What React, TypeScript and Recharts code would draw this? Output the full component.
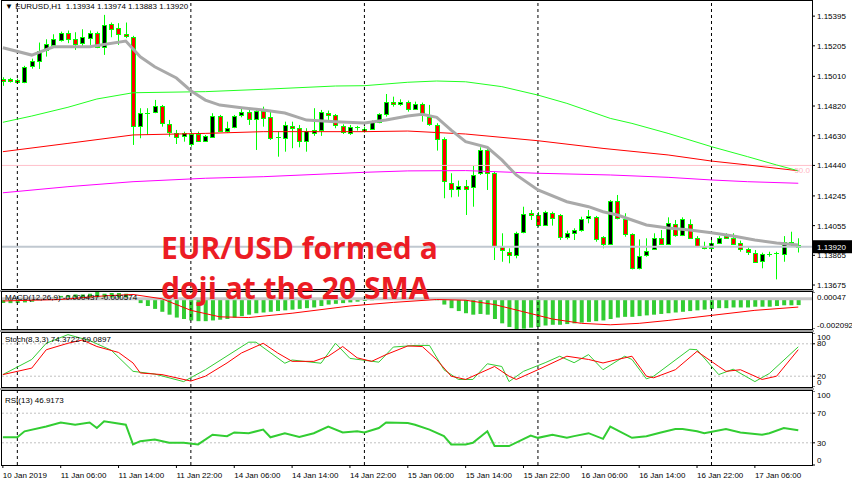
import React from 'react'
import { ComposedChart, Bar, Line, XAxis, YAxis, ReferenceLine } from 'recharts'

const FONT = '"Liberation Sans", Arial, sans-serif'
const X_DOMAIN: [number, number] = [-0.12, 111.9]
const PRICE_DOMAIN: [number, number] = [1.13656, 1.15479]

// EURUSD H1, 10 Jan 22:00 .. 17 Jan 12:00
const OPEN = [1.14993,1.14991,1.14987,1.14974,1.15077,1.15111,1.15175,1.15211,1.15243,1.1529,
  1.15251,1.15222,1.1526,1.1529,1.15196,1.15343,1.15318,1.15279,1.1526,1.14693,
  1.14774,1.14782,1.14821,1.14703,1.1465,1.14624,1.14577,1.14639,1.14597,1.14624,
  1.14757,1.14663,1.14688,1.14759,1.1478,1.14737,1.14791,1.14748,1.14622,1.14614,
  1.14693,1.14678,1.14599,1.14652,1.14671,1.14778,1.14763,1.14693,1.14652,1.1468,
  1.14671,1.14673,1.14716,1.14767,1.14844,1.14833,1.14844,1.14801,1.14833,1.14752,
  1.14699,1.14607,1.1433,1.14294,1.14311,1.143,1.1439,1.14539,1.1439,1.1392,
  1.13888,1.13871,1.14016,1.14134,1.14123,1.14059,1.14138,1.14123,1.13984,1.14006,
  1.14023,1.14106,1.14112,1.1398,1.13937,1.14215,1.14097,1.13999,1.13782,1.13867,
  1.13903,1.13978,1.13937,1.14065,1.13995,1.14065,1.13978,1.13927,1.13916,1.13948,
  1.13991,1.13978,1.13942,1.13903,1.13882,1.13829,1.13871,1.13875,1.13878,1.13952,
  1.13934]
const HIGH = [1.15004,1.15,1.14995,1.15077,1.15123,1.15226,1.15247,1.15279,1.15296,1.15303,
  1.15292,1.15311,1.15303,1.15296,1.15403,1.15354,1.1535,1.15354,1.15269,1.14806,
  1.14806,1.14859,1.14827,1.14731,1.14667,1.14656,1.14656,1.14656,1.14635,1.14774,
  1.14763,1.1472,1.14763,1.1481,1.14795,1.14795,1.14816,1.14795,1.14656,1.1472,
  1.1472,1.14699,1.14678,1.14806,1.14795,1.14791,1.14769,1.14703,1.14699,1.14693,
  1.14688,1.14727,1.14774,1.14897,1.1488,1.14863,1.14855,1.14848,1.14842,1.14827,
  1.1471,1.1462,1.1439,1.14343,1.14347,1.14437,1.14556,1.14556,1.144,1.14006,
  1.1391,1.14016,1.14176,1.14155,1.14142,1.1415,1.14144,1.14129,1.14023,1.14038,
  1.14112,1.14155,1.14117,1.13988,1.14219,1.14251,1.14134,1.14006,1.13967,1.13974,
  1.14006,1.14027,1.14108,1.14091,1.14108,1.14095,1.13988,1.13952,1.13963,1.13988,
  1.14006,1.14006,1.13959,1.13916,1.13899,1.13882,1.13888,1.13888,1.13988,1.14016,
  1.13974]
const LOW = [1.14949,1.1497,1.14961,1.14966,1.15059,1.15057,1.15136,1.15196,1.15232,1.15222,
  1.15179,1.15196,1.15211,1.1519,1.15147,1.1526,1.15211,1.15254,1.14571,1.14614,
  1.14635,1.14774,1.14688,1.14624,1.14577,1.14592,1.1456,1.14592,1.14592,1.1462,
  1.14656,1.1465,1.14678,1.14748,1.14699,1.14539,1.14688,1.14603,1.14496,1.14528,
  1.1455,1.14556,1.14528,1.14629,1.14629,1.14731,1.14678,1.14641,1.14635,1.14663,
  1.1465,1.14667,1.1471,1.14752,1.14816,1.14821,1.14784,1.14795,1.1472,1.14693,
  1.14535,1.1423,1.14236,1.1424,1.14123,1.14176,1.14379,1.14283,1.13835,1.13824,
  1.13814,1.13846,1.14006,1.14091,1.14048,1.14055,1.14055,1.13963,1.13967,1.13963,
  1.14016,1.1407,1.13952,1.1391,1.13931,1.14095,1.13984,1.13775,1.13775,1.13856,
  1.13899,1.13931,1.13931,1.13984,1.13988,1.13974,1.1392,1.13903,1.13888,1.13942,
  1.13974,1.13931,1.13888,1.13867,1.13818,1.13782,1.13856,1.13711,1.13824,1.1392,
  1.13883]
const CLOSE = [1.14981,1.14981,1.14976,1.15068,1.15109,1.15173,1.15215,1.15247,1.15286,1.15249,
  1.15222,1.1526,1.1529,1.152,1.15339,1.15313,1.15279,1.15264,1.14693,1.14774,
  1.14778,1.14821,1.1471,1.14652,1.14624,1.14646,1.14639,1.14597,1.14629,1.14757,
  1.14663,1.14682,1.14757,1.1478,1.14737,1.14791,1.14748,1.14614,1.14625,1.14699,
  1.14678,1.14592,1.14661,1.14669,1.14784,1.14767,1.14699,1.14652,1.14688,1.14684,
  1.14659,1.1472,1.14767,1.14844,1.14833,1.14848,1.14799,1.14831,1.14763,1.14705,
  1.14607,1.14336,1.14289,1.14311,1.14294,1.14379,1.14539,1.1439,1.13925,1.13899,
  1.13871,1.1401,1.14129,1.14123,1.14059,1.14144,1.14106,1.13984,1.1401,1.14027,
  1.14095,1.14117,1.13974,1.13935,1.14215,1.14108,1.14001,1.13782,1.13861,1.13895,
  1.13974,1.13942,1.14074,1.13995,1.14095,1.13978,1.13925,1.13914,1.13946,1.13978,
  1.1398,1.13937,1.13903,1.13882,1.13824,1.13871,1.13875,1.13878,1.13952,1.13937,
  1.1392]

// moving averages, [bar index, price] read at the bends
const SMA_GRAY = [[0,1.15193],[4,1.15146],[7,1.15199],[12,1.15199],[17,1.15236],[19,1.15135],[21,1.15071],
  [24,1.14999],[26,1.14918],[28,1.14858],[30,1.14826],[33,1.14809],[36,1.14794],[39,1.14775],[42,1.1473],
  [46,1.1472],[50,1.14711],[53,1.1473],[56,1.14756],[58,1.14767],[60,1.14748],[62,1.14666],[64,1.14592],
  [67,1.14556],[69,1.14475],[71,1.14379],[74,1.14283],[78,1.14208],[81,1.14176],[83,1.14144],[85,1.14123],
  [87,1.14091],[89,1.14059],[92,1.1404],[95,1.14027],[98,1.1401],[101,1.13988],[104,1.13963],[107,1.13944],[110,1.13931]]
const MA_GREEN = [[0,1.14716],[4,1.14756],[9,1.14812],[13,1.14865],[18,1.14905],[28,1.14912],[36,1.14927],
  [46,1.14948],[50,1.1495],[56,1.14972],[60,1.1498],[64,1.14975],[69,1.14944],[74,1.1489],[78,1.14837],
  [84,1.14741],[87,1.14709],[92,1.14645],[98,1.1456],[103,1.14496],[107,1.14443],[110,1.14406]]
const MA_RED = [[0,1.14528],[9,1.14581],[18,1.14635],[28,1.14645],[36,1.14656],[50,1.14656],[56,1.1466],
  [64,1.14641],[74,1.14598],[83,1.14549],[92,1.14507],[98,1.14468],[103,1.14443],[110,1.14406]]
const MA_MAGENTA = [[0,1.14265],[9,1.14304],[18,1.14336],[28,1.14358],[36,1.14368],[50,1.14396],[56,1.14405],
  [64,1.14407],[74,1.1439],[84,1.14379],[92,1.14364],[98,1.14347],[103,1.14336],[110,1.14326]]

const PRICE_TICKS = [1.15395, 1.15205, 1.1501, 1.1482, 1.1463, 1.1444, 1.14245, 1.14055, 1.13865, 1.13675]
const FIB_50 = 1.1444
const LAST_PRICE = 1.1392

const MACD_HIST = [-0.0003,-0.0003,-0.0003,-0.00025,-0.0002,
  -0.0001,0,0.0001,0.0002,0.00025,0.0003,0.0003,0.00035,0.00047,0.00035,0.0004,0.0004,0.00035,
  0,-0.0003,-0.0005,-0.0007,-0.0009,-0.0011,-0.0013,-0.0014,-0.0015,-0.00155,-0.00155,-0.0015,-0.00145,
  -0.0014,-0.0013,-0.0012,-0.0011,-0.001,-0.00095,-0.0009,-0.00085,-0.0008,-0.00075,-0.0007,-0.00065,-0.0006,-0.0005,-0.0004,
  -0.00035,-0.0003,-0.00025,-0.0002,-0.00015,-0.0001,-0.00005,0,0.00005,0.00005,0.00005,0.00005,0.00005,0,
  -0.0001,-0.0004,-0.00065,-0.00085,-0.001,-0.0011,-0.00105,-0.0011,-0.0014,-0.0017,-0.00195,-0.002092,-0.00207,-0.002,-0.00195,
  -0.00185,-0.0018,-0.0018,-0.00175,-0.0017,-0.00165,-0.0016,-0.00155,-0.0015,-0.0014,-0.0013,-0.00125,-0.00125,-0.0012,-0.00115,-0.0011,
  -0.00105,-0.001,-0.00095,-0.0009,-0.00085,-0.0008,-0.00075,-0.0007,-0.00065,-0.00065,-0.0006,-0.0006,-0.0006,-0.00055,-0.00055,-0.00055,-0.0005,-0.00045,-0.00045,-0.000437]
const MACD_SIGNAL = [[0,-0.00015],[8,-0.00005],[14,0.0002],[18,0.0003],[22,0],[26,-0.0008],[30,-0.00125],
  [34,-0.0013],[40,-0.001],[48,-0.0005],[54,-0.00025],[60,-0.00005],[64,-0.0001],[68,-0.0004],[72,-0.0009],
  [76,-0.0014],[80,-0.0017],[84,-0.0018],[88,-0.0017],[92,-0.0015],[98,-0.00115],[104,-0.0008],[110,-0.000574]]
const MACD_TICKS = [0.00047, -0.002092]

const STOCH_MAIN = [[0,23],[4,51],[6,81],[9,97],[12,86],[15,68],[18,29],[21,24],[25,10],[28,32],[34,83],[35,83],
  [39,44],[40,50],[44,44],[46,81],[48,53],[52,46],[54,74],[57,77],[59,77],[61,32],[63,14],[65,14],[67,43],
  [69,38],[70,10],[72,29],[75,45],[77,57],[79,45],[81,60],[83,32],[86,57],[87,51],[89,15],[90,20],[95,70],
  [96,69],[99,23],[101,33],[104,10],[106,25],[110,74.37]]
const STOCH_SIGNAL = [[0,23],[4,35],[6,69],[9,81],[11,87],[13,75],[16,64],[18,44.5],[19,26],[22,23],[26,11],
  [28,20],[31,44.5],[33,63],[36,81],[38,63],[40,47.5],[43,47.5],[45,57],[47,75],[49,54],[51,47.5],[53,60],
  [56,76],[58,75],[60,50.6],[62,20],[64,14],[66,26],[68,38],[70,20],[71,14],[74,32],[78,57],[81,51],[83,44.5],
  [85,51],[87,57],[89,20],[90,17],[93,32],[96,66],[99,38],[100,29],[102,32],[105,14],[107,20],[110,69.09]]
const STOCH_TICKS = [100, 80, 20, 0]

const RSI = [[0,37.5],[2,37.5],[3,45.5],[6,52],[8,57.5],[10,54.4],[12,57.5],[13,50],[14,59],[17,54.4],[18,27.8],
  [19,32.2],[21,34.4],[23,30],[25,30],[27,27.8],[29,41],[31,39],[32,44],[34,43],[36,47.8],[37,37.5],[39,43],
  [41,38],[43,43],[45,52],[47,44],[49,45.5],[50,44],[52,50],[53,57.5],[56,56.6],[57,54.4],[59,47.8],[61,39],
  [62,27.8],[64,27.8],[65,30],[67,45.5],[68,25.6],[70,25.6],[73,39.8],[74,36.7],[76,41],[78,36.7],[79,39],
  [81,43],[83,35.3],[84,52],[87,36.7],[89,39],[91,44],[93,48.6],[94,48.6],[96,45.5],[97,43],[100,48.6],
  [102,44],[105,41],[106,43],[108,50],[110,46.92]]
const RSI_TICKS = [100, 70, 30, 0]

const DAY_STARTS = [2, 26, 50, 74, 98]
const TIME_TICKS = [0, 8, 16, 24, 32, 40, 48, 56, 64, 72, 80, 88, 96, 104]
const TIME_LABELS = ['10 Jan 2019', '11 Jan 06:00', '11 Jan 14:00', '11 Jan 22:00', '14 Jan 06:00', '14 Jan 14:00',
  '14 Jan 22:00', '15 Jan 06:00', '15 Jan 14:00', '15 Jan 22:00', '16 Jan 06:00', '16 Jan 14:00', '16 Jan 22:00', '17 Jan 06:00']

const BULL = '#000000'
const BEAR = '#ff0000'
const WICK = '#00ff00'

const lookup = (knots: number[][]) => {
  const m = new Map(knots.map(([i, v]) => [i, v]))
  return (i: number) => (m.has(i) ? m.get(i) : null)
}
const sma = lookup(SMA_GRAY)
const green = lookup(MA_GREEN)
const red = lookup(MA_RED)
const magenta = lookup(MA_MAGENTA)
const sig = lookup(MACD_SIGNAL)
const stK = lookup(STOCH_MAIN)
const stD = lookup(STOCH_SIGNAL)
const rsi = lookup(RSI)

const data = OPEN.map((o, i) => ({
  i,
  open: o,
  high: HIGH[i],
  low: LOW[i],
  close: CLOSE[i],
  sma: sma(i),
  green: green(i),
  red: red(i),
  magenta: magenta(i),
  macd: MACD_HIST[i],
  signal: sig(i),
  k: stK(i),
  d: stD(i),
  rsi: rsi(i),
}))

const Candle = (props: any) => {
  const { x, y, width, height, payload } = props
  if (x == null || y == null) return null
  const top = Math.min(y, y + height)
  const h = Math.abs(height)
  const { open, high, low, close } = payload
  const span = high - low
  const pos = (v: number) => (span === 0 ? top : top + ((high - v) / span) * h)
  const cx = Math.round(x + width / 2) + 0.5
  const yo = pos(open)
  const yc = pos(close)
  const bTop = Math.min(yo, yc)
  const bBot = Math.max(yo, yc)
  return (
    <g>
      <line x1={cx} x2={cx} y1={top} y2={top + h} stroke={WICK} strokeWidth={1} />
      {bBot - bTop < 1.2 ? (
        <line x1={cx - 2.5} x2={cx + 2.5} y1={Math.round(bTop) + 0.5} y2={Math.round(bTop) + 0.5} stroke={WICK} />
      ) : (
        <rect x={cx - 2} y={Math.round(bTop) + 0.5} width={4} height={Math.max(1, Math.round(bBot - bTop))}
          fill={close >= open ? BULL : BEAR} stroke={WICK} strokeWidth={1} />
      )}
    </g>
  )
}

const rightTick = (fmt: (v: number) => string, shift: Record<string, number> = {}) => (props: any) => {
  const { x, y, payload } = props
  return (
    <text x={x} y={y + 3 + (shift[String(payload.value)] ?? 0)} fontSize={8} fontFamily={FONT} fill="#000" textAnchor="start">
      {fmt(payload.value)}
    </text>
  )
}

const timeTick = (props: any) => {
  const { x, y, payload } = props
  const k = TIME_TICKS.indexOf(payload.value)
  return (
    <text x={x} y={y + 8} fontSize={8} fontFamily={FONT} fill="#000" textAnchor="start">
      {TIME_LABELS[k]}
    </text>
  )
}

const LastPriceTag = (props: any) => {
  const vb = props.viewBox
  if (!vb) return null
  const x = vb.x + vb.width + 1
  return (
    <g>
      <rect x={x} y={vb.y - 6.5} width={39} height={13} fill="#000" />
      <text x={x + 4} y={vb.y + 3} fontSize={8} fontFamily={FONT} fill="#fff">{LAST_PRICE.toFixed(5)}</text>
    </g>
  )
}

const separators = DAY_STARTS.map((d) => (
  <ReferenceLine key={d} x={d} stroke="#000" strokeDasharray="3 3" strokeWidth={1} />
))

const panel = (top: number, height: number) => ({
  position: 'absolute' as const,
  left: 1,
  top,
  width: 812,
  height,
  border: '1px solid #000',
  boxSizing: 'border-box' as const,
  pointerEvents: 'none' as const,
})

const label = (left: number, top: number) => ({
  position: 'absolute' as const,
  left,
  top,
  fontSize: 8,
  fontFamily: FONT,
  color: '#000',
  whiteSpace: 'pre' as const,
  lineHeight: '10px',
})

export default function App() {
  return (
    <div style={{ position: 'absolute', left: 0, top: 0, width: 852, height: 485, background: '#fff', overflow: 'hidden' }}>
      {/* price window */}
      <div style={{ position: 'absolute', left: 0, top: 0 }}>
        <ComposedChart width={852} height={290} data={data} margin={{ top: 3, right: 0, bottom: 2, left: 2 }}>
          <XAxis type="number" dataKey="i" domain={X_DOMAIN} allowDataOverflow hide />
          <YAxis orientation="right" width={40} domain={PRICE_DOMAIN} allowDataOverflow ticks={PRICE_TICKS}
            interval={0} axisLine={false} tickLine={{ stroke: '#000' }} tickSize={3}
            tick={rightTick((v) => v.toFixed(5))} />
          {separators}
          <ReferenceLine y={FIB_50} stroke="#ffc0cb" strokeWidth={1}
            label={{ value: '50.0', position: 'insideTopRight', fill: '#ffb6c1', fontSize: 8, fontFamily: FONT, offset: 2 }} />
          <ReferenceLine y={LAST_PRICE} stroke="#c0c8d0" strokeWidth={2} label={<LastPriceTag />} />
          <Line dataKey="magenta" stroke="#ff00ff" strokeWidth={1} dot={false} connectNulls isAnimationActive={false} />
          <Line dataKey="red" stroke="#ff0000" strokeWidth={1} dot={false} connectNulls isAnimationActive={false} />
          <Line dataKey="green" stroke="#22ff22" strokeWidth={1} dot={false} connectNulls isAnimationActive={false} />
          <Line dataKey="sma" stroke="#a9a9a9" strokeWidth={3} dot={false} connectNulls isAnimationActive={false} />
          <Bar dataKey={(d: any) => [d.low, d.high]} barSize={5} shape={<Candle />} isAnimationActive={false} />
        </ComposedChart>
      </div>

      {/* MACD */}
      <div style={{ position: 'absolute', left: 0, top: 292 }}>
        <ComposedChart width={852} height={37} data={data} margin={{ top: 0, right: 0, bottom: 0, left: 2 }}>
          <XAxis type="number" dataKey="i" domain={X_DOMAIN} allowDataOverflow hide />
          <YAxis orientation="right" width={40} domain={[MACD_TICKS[1], MACD_TICKS[0]]} allowDataOverflow ticks={MACD_TICKS}
            interval={0} axisLine={false} tickLine={{ stroke: '#000' }} tickSize={3}
            tick={rightTick((v) => String(v), { '0.00047': 5, '-0.002092': -4 })} />
          <ReferenceLine y={0} stroke="#c8c8c8" strokeWidth={3} />
          {separators}
          <Bar dataKey="macd" fill="#32cd32" barSize={4} isAnimationActive={false} />
          <Line dataKey="signal" stroke="#ff0000" strokeWidth={1} dot={false} connectNulls isAnimationActive={false} />
        </ComposedChart>
      </div>

      {/* Stochastic */}
      <div style={{ position: 'absolute', left: 0, top: 333 }}>
        <ComposedChart width={852} height={54} data={data} margin={{ top: 0, right: 0, bottom: 0, left: 2 }}>
          <XAxis type="number" dataKey="i" domain={X_DOMAIN} allowDataOverflow hide />
          <YAxis orientation="right" width={40} domain={[0, 100]} ticks={STOCH_TICKS} interval={0}
            axisLine={false} tickLine={{ stroke: '#000' }} tickSize={3}
            tick={rightTick((v) => String(v), { '100': 4, '80': -1, '0': -5 })} />
          <ReferenceLine y={80} stroke="#c0c0c0" strokeDasharray="2 2" />
          <ReferenceLine y={20} stroke="#c0c0c0" strokeDasharray="2 2" />
          {separators}
          <Line dataKey="k" stroke="#32cd32" strokeWidth={1} dot={false} connectNulls isAnimationActive={false} />
          <Line dataKey="d" stroke="#ff0000" strokeWidth={1} dot={false} connectNulls isAnimationActive={false} />
        </ComposedChart>
      </div>

      {/* RSI + time scale */}
      <div style={{ position: 'absolute', left: 0, top: 391 }}>
        <ComposedChart width={852} height={94} data={data} margin={{ top: 0, right: 0, bottom: 0, left: 2 }}>
          <XAxis type="number" dataKey="i" domain={X_DOMAIN} allowDataOverflow ticks={TIME_TICKS} interval={0}
            height={20} axisLine={false} tickLine={{ stroke: '#000' }} tickSize={3} tick={timeTick} />
          <YAxis orientation="right" width={40} domain={[0, 100]} ticks={RSI_TICKS} interval={0}
            axisLine={false} tickLine={{ stroke: '#000' }} tickSize={3}
            tick={rightTick((v) => String(v), { '100': 4, '0': -5 })} />
          <ReferenceLine y={70} stroke="#c0c0c0" strokeDasharray="2 2" />
          <ReferenceLine y={30} stroke="#c0c0c0" strokeDasharray="2 2" />
          {separators}
          <Line dataKey="rsi" stroke="#32cd32" strokeWidth={2} dot={false} connectNulls isAnimationActive={false} />
        </ComposedChart>
      </div>

      {/* window frames */}
      <div style={panel(0, 290)} />
      <div style={{ position: 'absolute', left: 0, top: 290, width: 814, height: 2, background: '#a0a0a0' }} />
      <div style={panel(291, 39)} />
      <div style={{ position: 'absolute', left: 0, top: 330, width: 814, height: 2, background: '#a0a0a0' }} />
      <div style={panel(332, 56)} />
      <div style={{ position: 'absolute', left: 0, top: 388, width: 814, height: 2, background: '#a0a0a0' }} />
      <div style={panel(390, 76)} />

      <div style={label(5, 2)}>{'\u25BC EURUSD,H1  1.13934 1.13974 1.13883 1.13920'}</div>
      <div style={label(5, 293)}>MACD(12,26,9) -0.000437 -0.000574</div>
      <div style={label(5, 335)}>Stoch(8,3,3) 74.3722 69.0897</div>
      <div style={label(5, 396)}>RSI(13) 46.9173</div>

      <div style={{
        position: 'absolute', left: 161, top: 228, fontFamily: '"Open Sans", sans-serif', fontWeight: 700,
        fontSize: 30, lineHeight: '40px', color: '#ec1c24', whiteSpace: 'pre',
      }}>
        {'EUR/USD formed a\ndoji at the 20 SMA'}
      </div>
    </div>
  )
}
